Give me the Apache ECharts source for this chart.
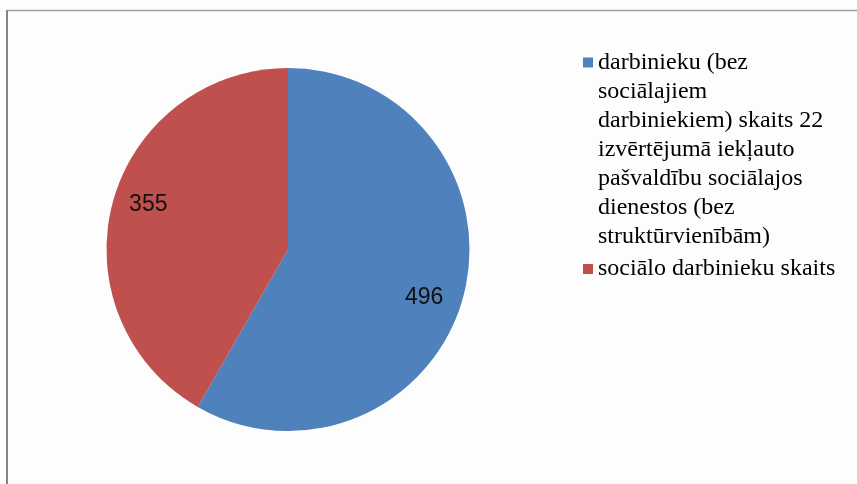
<!DOCTYPE html>
<html>
<head>
<meta charset="utf-8">
<script src="https://cdn.jsdelivr.net/npm/echarts@6/dist/echarts.min.js"></script>
<style>
  html, body { margin: 0; padding: 0; background: #fdfdfd; }
  #chart { width: 857px; height: 484px; }
</style>
</head>
<body>
<div id="chart"></div>
<script>
// Slice names, values and the wrapped legend text for each slice
const categories = [
  'darbinieku (bez sociālajiem darbiniekiem) skaits 22 izvērtējumā iekļauto pašvaldību sociālajos dienestos (bez struktūrvienībām)',
  'sociālo darbinieku skaits'
];
const values = [496, 355];
const legendLines = [
  ['darbinieku (bez', 'sociālajiem', 'darbiniekiem) skaits 22', 'izvērtējumā iekļauto', 'pašvaldību sociālajos', 'dienestos (bez', 'struktūrvienībām)'],
  ['sociālo darbinieku skaits']
];

const colors = ['#4F81BD', '#C0504D'];
const labelNudge = [[-7, 10.5], [3.5, -6.5]];

const center = [288, 249.5];
const radius = 181.5;
const lineH = 29;

const chart = echarts.init(document.getElementById('chart'), null, { renderer: 'canvas' });

const pieData = categories.map((name, i) => ({ name, value: values[i] }));
const labelData = categories.map((name, i) => ({
  name, value: values[i],
  label: { offset: labelNudge[i] }
}));

// Legend text is centred on its marker, so blank lines are put in front of a
// wrapped entry to keep its first line level with the square.
function legendText(name) {
  const lines = legendLines[categories.indexOf(name)];
  return new Array(lines.length - 1).fill('').concat(lines).join('\n');
}

// markerY: vertical centre of the legend square
function legendFor(i, markerY) {
  const n = legendLines[i].length;
  return {
    data: [categories[i]],
    orient: 'vertical',
    left: 583,
    top: markerY - (n - 1) * lineH - lineH / 2,
    padding: 0,
    itemWidth: 10,
    itemHeight: 10,
    icon: 'rect',
    selectedMode: false,
    formatter: legendText,
    textStyle: {
      fontFamily: 'Liberation Serif',
      fontSize: 24,
      lineHeight: lineH,
      color: '#000'
    }
  };
}

chart.setOption({
  backgroundColor: '#fdfdfd',
  animation: false,
  color: colors,
  legend: [legendFor(0, 62.5), legendFor(1, 269)],
  graphic: [
    { type: 'line', shape: { x1: 7, y1: 10.5, x2: 857, y2: 10.5 }, style: { stroke: '#a0a0a0', lineWidth: 1.5 } },
    { type: 'line', shape: { x1: 7, y1: 10, x2: 7, y2: 484 }, style: { stroke: '#858585', lineWidth: 2 } }
  ],
  series: [
    {
      type: 'pie',
      center: center,
      radius: radius,
      startAngle: 90,
      clockwise: true,
      silent: true,
      label: { show: false },
      labelLine: { show: false },
      itemStyle: { borderWidth: 0 },
      data: pieData
    },
    {
      // transparent ring that places the value labels near the rim
      type: 'pie',
      center: center,
      radius: [radius * 0.8 - 16, radius * 0.8 + 16],
      startAngle: 90,
      clockwise: true,
      silent: true,
      itemStyle: { color: 'rgba(0,0,0,0)', borderWidth: 0 },
      label: {
        show: true,
        position: 'inside',
        formatter: '{c}',
        fontFamily: 'Liberation Sans',
        fontSize: 23,
        color: '#111'
      },
      labelLine: { show: false },
      data: labelData
    }
  ]
});
</script>
</body>
</html>
